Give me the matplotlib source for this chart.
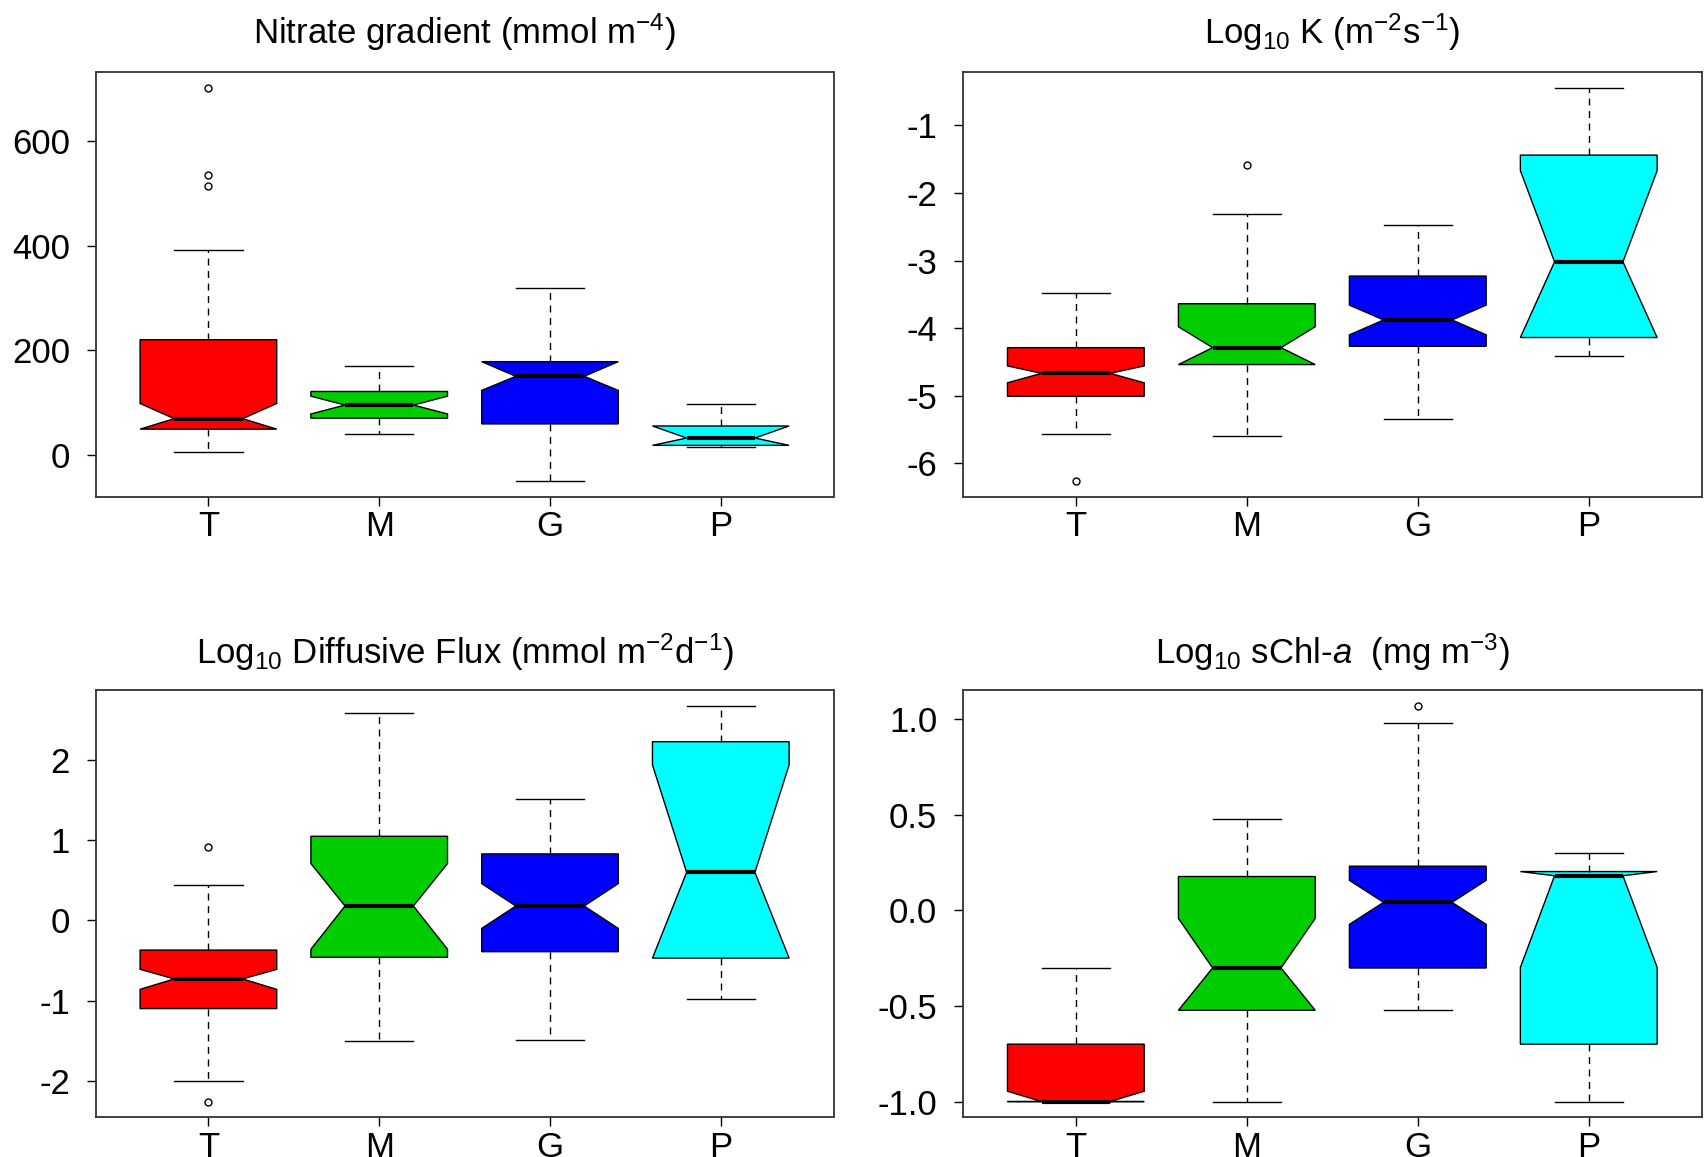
import matplotlib
matplotlib.use("Agg")
import matplotlib.pyplot as plt

plt.rcParams["font.family"] = ["Liberation Sans", "DejaVu Sans"]
plt.rcParams["mathtext.fontset"] = "custom"
plt.rcParams["mathtext.rm"] = "Liberation Sans"
plt.rcParams["mathtext.it"] = "Liberation Sans:italic"
plt.rcParams["mathtext.bf"] = "Liberation Sans:bold"
plt.rcParams["axes.unicode_minus"] = False

# Biomes
categories = ["T", "M", "G", "P"]
box_colors = ["#FF0000", "#00CD00", "#0000FF", "#00FFFF"]

# Nitrate gradient (mmol m-4)
nitrate_whislo = [6, 39, -51, 15]
nitrate_q1 = [49, 70, 59, 18]
nitrate_cilo = [49, 78, 123, 18]
nitrate_med = [69, 95, 150, 32]
nitrate_cihi = [98, 112, 178, 55]
nitrate_q3 = [220, 121, 178, 55]
nitrate_whishi = [392, 170, 319, 98]
nitrate_fliers = [[702, 535, 514], [], [], []]
nitrate_ticks = [0, 200, 400, 600]

# Log10 K (m-2 s-1)
k_whislo = [-5.57, -5.59, -5.34, -4.42]
k_q1 = [-5.01, -4.54, -4.27, -4.14]
k_cilo = [-4.81, -4.54, -4.10, -4.14]
k_med = [-4.67, -4.29, -3.88, -3.02]
k_cihi = [-4.56, -3.98, -3.66, -1.67]
k_q3 = [-4.29, -3.64, -3.23, -1.44]
k_whishi = [-3.48, -2.31, -2.47, -0.44]
k_fliers = [[-6.27], [-1.59], [], []]
k_ticks = [-6, -5, -4, -3, -2, -1]

# Log10 diffusive flux (mmol m-2 d-1)
flux_whislo = [-2.00, -1.50, -1.49, -0.98]
flux_q1 = [-1.10, -0.46, -0.39, -0.47]
flux_cilo = [-0.86, -0.36, -0.10, -0.47]
flux_med = [-0.73, 0.18, 0.18, 0.60]
flux_cihi = [-0.61, 0.71, 0.46, 1.94]
flux_q3 = [-0.37, 1.05, 0.83, 2.23]
flux_whishi = [0.44, 2.59, 1.52, 2.68]
flux_fliers = [[0.92, -2.26], [], [], []]
flux_ticks = [-2, -1, 0, 1, 2]

# Log10 surface chlorophyll-a (mg m-3)
chl_whislo = [-1.0, -1.0, -0.523, -1.0]
chl_q1 = [-1.0, -0.523, -0.302, -0.70]
chl_cilo = [-1.0, -0.523, -0.074, -0.299]
chl_med = [-1.0, -0.302, 0.041, 0.18]
chl_cihi = [-0.946, -0.043, 0.156, 0.202]
chl_q3 = [-0.70, 0.176, 0.230, 0.202]
chl_whishi = [-0.30, 0.477, 0.978, 0.30]
chl_fliers = [[], [], [1.069], []]
chl_ticks = [-1.0, -0.5, 0.0, 0.5, 1.0]
chl_ticklabels = ["-1.0", "-0.5", "0.0", "0.5", "1.0"]

panels = [
    dict(title="Nitrate gradient (mmol m$^{-4}$)",
         whislo=nitrate_whislo, q1=nitrate_q1, cilo=nitrate_cilo, med=nitrate_med,
         cihi=nitrate_cihi, q3=nitrate_q3, whishi=nitrate_whishi, fliers=nitrate_fliers,
         ticks=nitrate_ticks, ticklabels=None, title_offset=20.5),
    dict(title="Log$_{10}$ K (m$^{-2}$s$^{-1}$)",
         whislo=k_whislo, q1=k_q1, cilo=k_cilo, med=k_med,
         cihi=k_cihi, q3=k_q3, whishi=k_whishi, fliers=k_fliers,
         ticks=k_ticks, ticklabels=None, title_offset=20.5),
    dict(title="Log$_{10}$ Diffusive Flux (mmol m$^{-2}$d$^{-1}$)",
         whislo=flux_whislo, q1=flux_q1, cilo=flux_cilo, med=flux_med,
         cihi=flux_cihi, q3=flux_q3, whishi=flux_whishi, fliers=flux_fliers,
         ticks=flux_ticks, ticklabels=None, title_offset=19),
    dict(title="Log$_{10}$ sChl-$a$  (mg m$^{-3}$)",
         whislo=chl_whislo, q1=chl_q1, cilo=chl_cilo, med=chl_med,
         cihi=chl_cihi, q3=chl_q3, whishi=chl_whishi, fliers=chl_fliers,
         ticks=chl_ticks, ticklabels=chl_ticklabels, title_offset=19),
]

W, H = 1706, 1157
fig = plt.figure(figsize=(W / 100, H / 100), dpi=100)

# axes rectangles in pixels: (left, top, right, bottom)
rects = [
    (95.7, 71.8, 833.5, 497.2),
    (963.0, 71.8, 1701.6, 497.2),
    (95.7, 689.8, 833.5, 1117.4),
    (963.0, 689.8, 1701.6, 1117.4),
]

FS = 25
positions = list(range(1, len(categories) + 1))

for p, (l, t, r, b) in zip(panels, rects):
    ax = fig.add_axes([l / W, 1 - b / H, (r - l) / W, (b - t) / H])
    stats = []
    for i in range(len(categories)):
        stats.append(dict(whislo=p["whislo"][i], q1=p["q1"][i], cilo=p["cilo"][i],
                          med=p["med"][i], cihi=p["cihi"][i], q3=p["q3"][i],
                          whishi=p["whishi"][i], fliers=p["fliers"][i]))
    res = ax.bxp(stats, positions=positions, widths=0.8, capwidths=0.4,
                 shownotches=True, patch_artist=True,
                 boxprops=dict(edgecolor="black", linewidth=1.0),
                 medianprops=dict(color="black", linewidth=3.0, solid_capstyle="butt"),
                 whiskerprops=dict(color="black", linewidth=1.0, linestyle=(0, (5, 4))),
                 capprops=dict(color="black", linewidth=1.0),
                 flierprops=dict(marker="o", markerfacecolor="none",
                                 markeredgecolor="black", markersize=5,
                                 markeredgewidth=1.0, linestyle="none"))
    for patch, c in zip(res["boxes"], box_colors):
        patch.set_facecolor(c)

    # R-style axis extents: 4% padding on each side
    all_fliers = [v for f in p["fliers"] for v in f]
    lo = min(p["whislo"] + all_fliers)
    hi = max(p["whishi"] + all_fliers)
    pad = 0.04 * (hi - lo)
    ax.set_ylim(lo - pad, hi + pad)
    ax.set_xlim(0.5 - 0.16, len(categories) + 0.5 + 0.16)

    ax.set_xticks(positions)
    ax.set_xticklabels(categories, fontsize=FS)
    ax.set_yticks(p["ticks"])
    if p["ticklabels"] is not None:
        ax.set_yticklabels(p["ticklabels"], fontsize=FS)
    else:
        ax.set_yticklabels([str(v) for v in p["ticks"]], fontsize=FS)
    ax.tick_params(axis="both", direction="out", length=6.5, width=1.0, color="black")
    ax.tick_params(axis="y", pad=12)
    ax.tick_params(axis="x", pad=3)
    for s in ax.spines.values():
        s.set_linewidth(1.3)
        s.set_color("#333333")

    ax.annotate(p["title"], xy=(0.5, 1.0), xycoords="axes fraction",
                xytext=(0, p["title_offset"]), textcoords="offset points",
                ha="center", va="baseline", fontsize=FS)

fig.savefig("out.png", dpi=100)
